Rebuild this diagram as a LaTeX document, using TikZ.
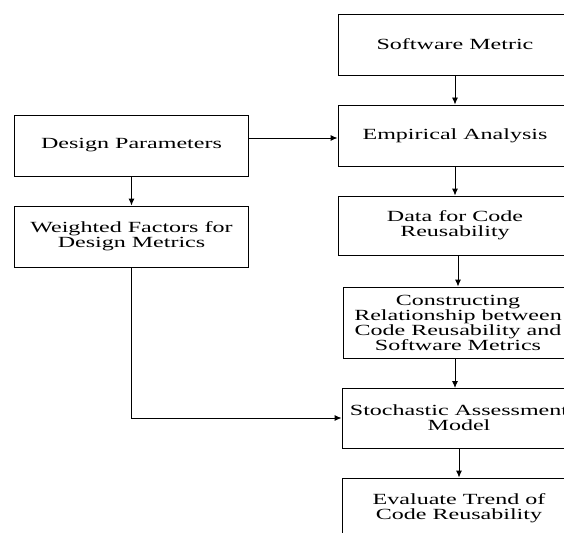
\documentclass[tikz,border=0pt]{standalone}
\usepackage{fontspec}
\setmainfont{Liberation Serif}[FakeStretch=1.55]
\usetikzlibrary{arrows.meta}
\tikzset{
  stage/.style={draw, fill=white, line width=0.9pt, align=center,
    minimum width=234pt, minimum height=61pt, inner sep=2pt,
    font=\fontsize{15.5}{15}\selectfont},
  flow/.style={-{Latex[length=7pt,width=6pt]}, line width=0.9pt}
}

\begin{document}
\begin{tikzpicture}[x=1pt,y=-1pt]
\useasboundingbox (0,0) rectangle (564,532);
\clip (0,0) rectangle (564,532);

% right column
\node[stage] (sm) at (455,44.5) {Software Metric};
\node[stage] (ea) at (455,135.5) {Empirical Analysis};
\node[stage, minimum height=59pt] (dcr) at (455,225.5) {Data for Code\\Reusability};
\node[stage, minimum height=71pt, minimum width=230pt] (crs) at (458,322.5)
  {Constructing\\Relationship between\\Code Reusability and\\Software Metrics};
\node[stage, minimum height=60pt] (sam) at (459,418) {Stochastic Assessment\\Model};
\node[stage] (etr) at (459,508.5) {Evaluate Trend of\\Code Reusability};

% left column
\node[stage] (dp) at (131.5,145.5) {Design Parameters};
\node[stage] (wf) at (131.5,236.5) {Weighted Factors for\\Design Metrics};

\draw[flow] (sm) -- (ea);
\draw[flow] (ea) -- (dcr);
\draw[flow] (crs.north |- dcr.south) -- (crs.north);
\draw[flow] (455,358) -- (455,388);
\draw[flow] (sam) -- (etr);
\draw[flow] (dp.east |- 0,138) -- (ea.west |- 0,138);
\draw[flow] (dp) -- (wf);
\draw[flow] (wf.south) |- (sam.west);
\end{tikzpicture}
\end{document}
